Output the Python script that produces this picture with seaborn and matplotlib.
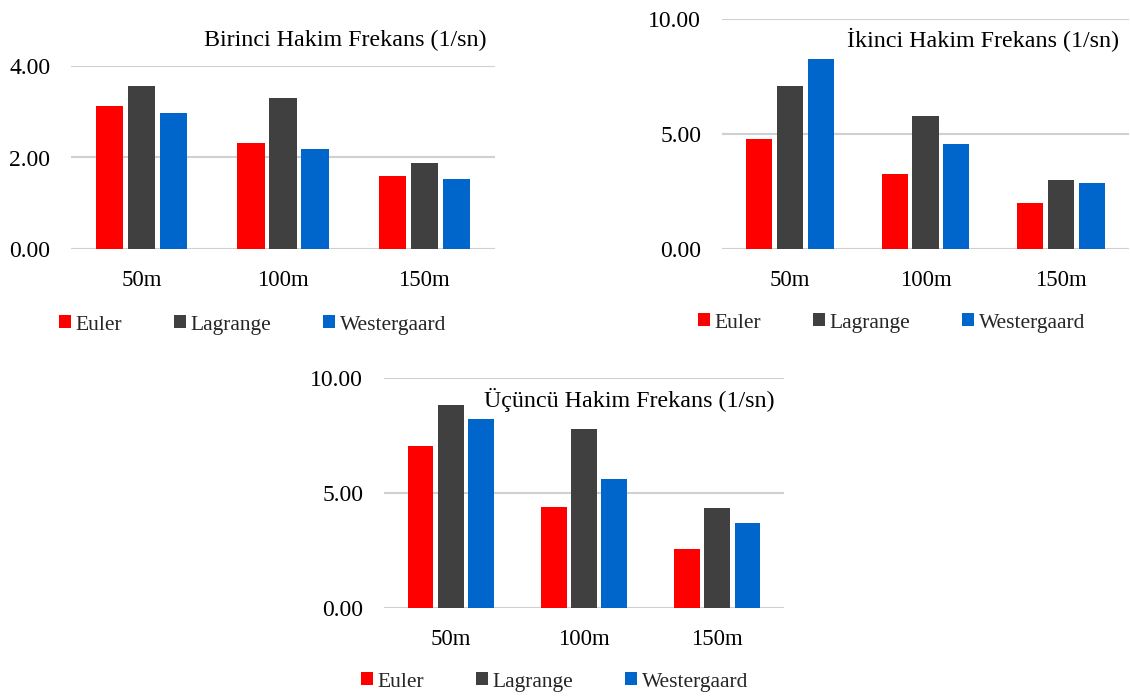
import matplotlib
matplotlib.use("Agg")
import matplotlib.pyplot as plt
import seaborn as sns
import pandas as pd

# Frequency results (1/sn) per dam height for three hydrodynamic approaches
heights = ["50m", "100m", "150m"]
methods = ["Euler", "Lagrange", "Westergaard"]

first_euler = [3.13, 2.31, 1.60]
first_lagrange = [3.56, 3.29, 1.89]
first_westergaard = [2.98, 2.18, 1.54]

second_euler = [4.79, 3.26, 2.01]
second_lagrange = [7.09, 5.80, 3.00]
second_westergaard = [8.25, 4.59, 2.89]

third_euler = [7.03, 4.38, 2.55]
third_lagrange = [8.84, 7.79, 4.33]
third_westergaard = [8.23, 5.60, 3.67]

titles = ["Birinci Hakim Frekans (1/sn)",
          "İkinci Hakim Frekans (1/sn)",
          "Üçüncü Hakim Frekans (1/sn)"]
yticks_first = [0, 2, 4]
yticks_other = [0, 5, 10]

colors = ["#FF0000", "#404040", "#0066CC"]

sns.set_theme(style="white")
plt.rcParams["font.family"] = ["Liberation Serif", "DejaVu Serif"]

W, H = 1130, 696
fig = plt.figure(figsize=(W / 100, H / 100), dpi=100)


def frame(values):
    rows = []
    for m, vals in zip(methods, values):
        for h, v in zip(heights, vals):
            rows.append({"Yükseklik": h, "Yöntem": m, "Frekans": v})
    return pd.DataFrame(rows)


def px_axes(left, right, top, bottom):
    return fig.add_axes([left / W, 1 - bottom / H, (right - left) / W, (bottom - top) / H])


def panel(ax, values, title, ticks, title_xy, legend_xy):
    df = frame(values)
    sns.barplot(data=df, x="Yükseklik", y="Frekans", hue="Yöntem",
                order=heights, hue_order=methods, palette=colors,
                width=0.68, gap=0.15, saturation=1, linewidth=0,
                ax=ax)
    ax.set_ylim(ticks[0], ticks[-1])
    ax.set_yticks(ticks)
    ax.set_yticklabels([f"{t:.2f}" for t in ticks])
    ax.set_xlim(-0.5, 2.5)
    ax.set_xlabel("")
    ax.set_ylabel("")
    for s in ax.spines.values():
        s.set_visible(False)
    ax.set_axisbelow(True)
    ax.yaxis.grid(True, color="#D0D0D0", linewidth=1.5)
    ax.tick_params(axis="y", length=0, pad=15, labelsize=17, colors="black")
    ax.tick_params(axis="x", length=0, pad=15, labelsize=16.5, colors="black")

    handles, labels = ax.get_legend_handles_labels()
    ax.legend(handles, labels, loc="center left",
              bbox_to_anchor=(legend_xy[0] / W, 1 - legend_xy[1] / H),
              bbox_transform=fig.transFigure, ncol=3, frameon=False,
              fontsize=15.5, handlelength=0.55, handleheight=0.55,
              handletextpad=0.23, columnspacing=2.4,
              borderpad=0, borderaxespad=0)

    fig.text(title_xy[0] / W, 1 - title_xy[1] / H, title,
             ha="right", va="center", fontsize=17.3, color="black")


ax1 = px_axes(71, 495, 65.7, 249.3)
panel(ax1, [first_euler, first_lagrange, first_westergaard],
      titles[0], yticks_first, (487, 40), (59, 325))

ax2 = px_axes(722, 1129, 19, 249.3)
panel(ax2, [second_euler, second_lagrange, second_westergaard],
      titles[1], yticks_other, (1119, 40), (698, 323))

ax3 = px_axes(384, 784, 378, 607.7)
panel(ax3, [third_euler, third_lagrange, third_westergaard],
      titles[2], yticks_other, (775, 400), (361, 682))

fig.savefig("out.png", dpi=100)
